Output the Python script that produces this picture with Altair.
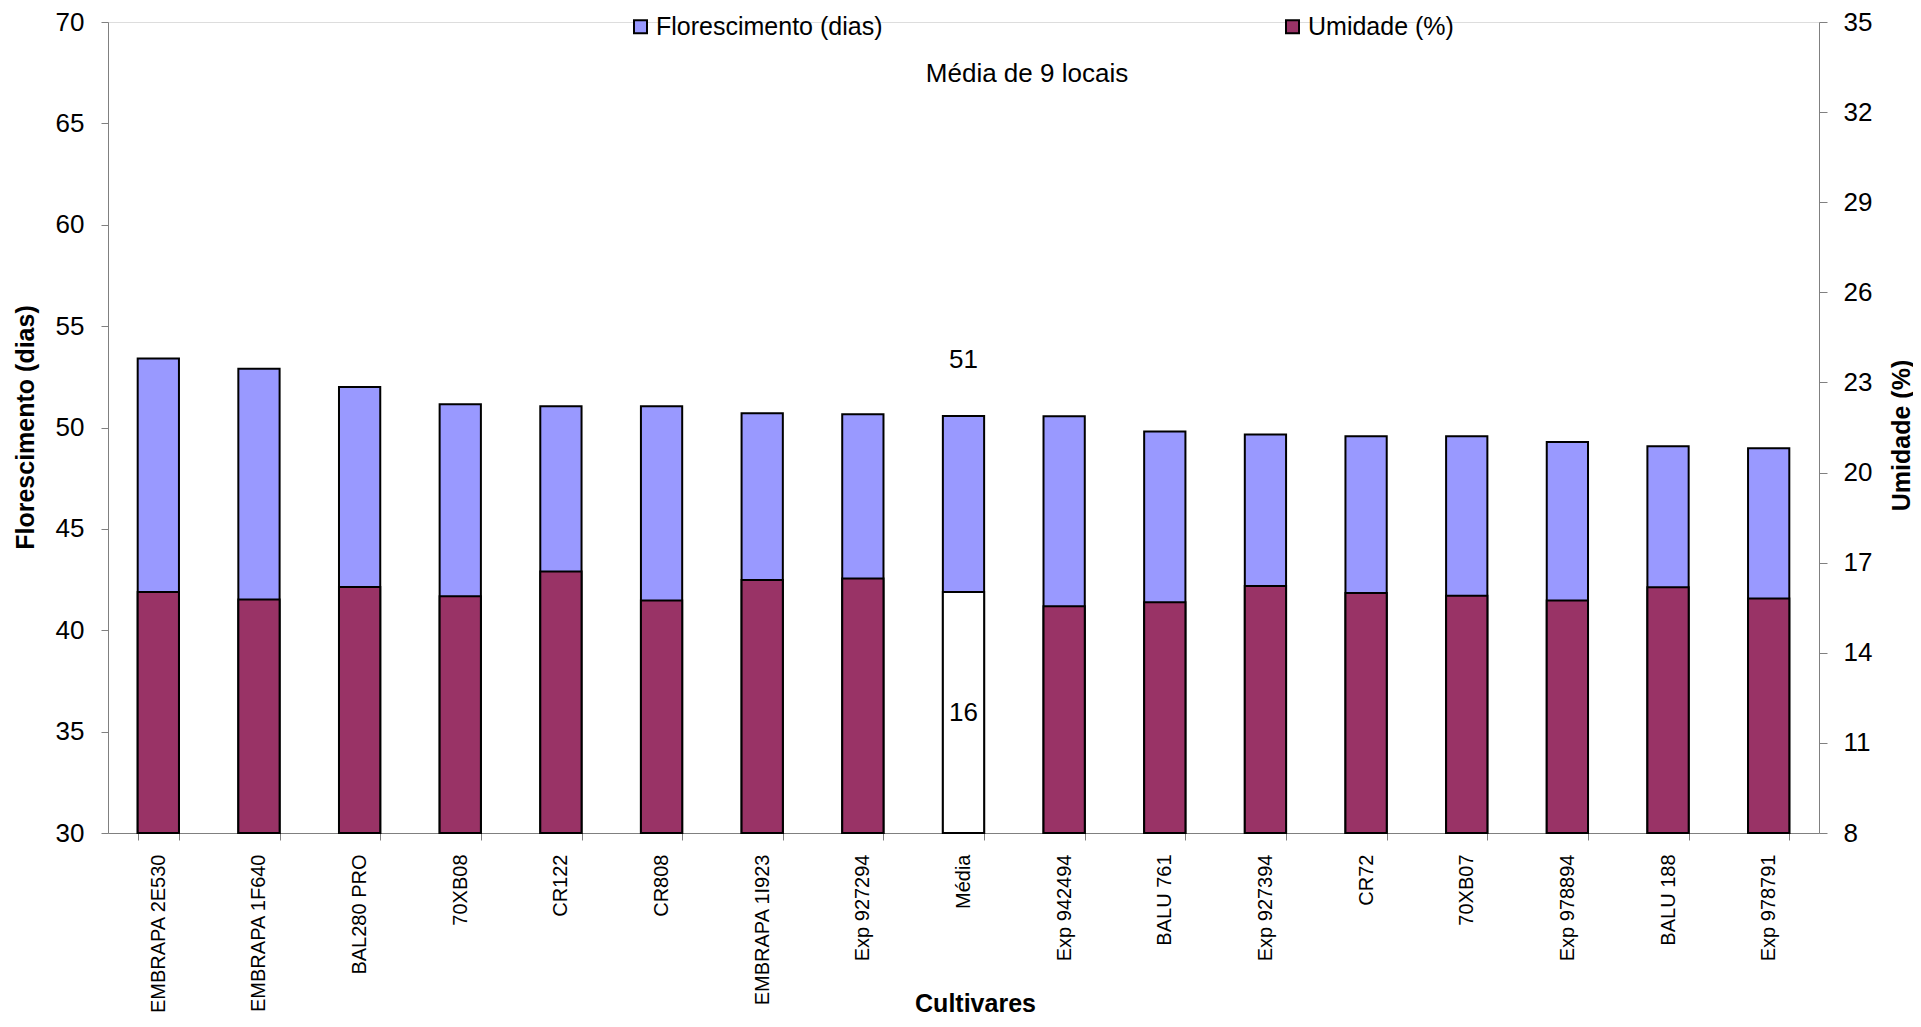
import altair as alt
import pandas as pd

cultivares = ["EMBRAPA 2E530", "EMBRAPA 1F640", "BAL280 PRO", "70XB08", "CR122", "CR808",
              "EMBRAPA 1I923", "Exp 927294", "Média", "Exp 942494", "BALU 761", "Exp 927394",
              "CR72", "70XB07", "Exp 978894", "BALU 188", "Exp 978791"]
florescimento = [53.4, 52.9, 52.0, 51.15, 51.05, 51.05, 50.7, 50.65, 50.57, 50.55, 49.8, 49.65,
                 49.57, 49.57, 49.28, 49.08, 48.98]
umidade = [16.02, 15.77, 16.19, 15.88, 16.71, 15.74, 16.42, 16.47, 16.02, 15.55, 15.68, 16.22,
           15.99, 15.9, 15.74, 16.18, 15.81]

SERIE_F = "Florescimento (dias)"
SERIE_U = "Umidade (%)"
titulo = "Média de 9 locais"

rows = []
for c, f, u in zip(cultivares, florescimento, umidade):
    rows.append({"Cultivar": c, "serie": SERIE_F, "valor": f})
    rows.append({"Cultivar": c, "serie": SERIE_U, "valor": u})
df = pd.DataFrame(rows)

FONT = "Liberation Sans"
W, H = 1711, 811

fill_scale = alt.Scale(domain=[SERIE_F, SERIE_U], range=["#9999FF", "#993366"])
legend = alt.Legend(
    title=None, orient="none", legendX=520, legendY=-8, direction="horizontal", columns=2,
    columnPadding=397, symbolType="square", symbolSize=169, symbolStrokeColor="black",
    symbolStrokeWidth=2, labelFontSize=25, labelFont=FONT, labelColor="black",
    labelOffset=3, padding=0, labelLimit=600,
)

x_enc = alt.X(
    "Cultivar:N", sort=cultivares,
    scale=alt.Scale(paddingInner=0.59, paddingOuter=0.295),
    axis=alt.Axis(
        title="Cultivares", labelAngle=270, labelFontSize=20, labelFont=FONT, labelColor="black",
        tickBand="extent", tickSize=7, labelPadding=14, tickColor="#808080", domainColor="#808080",
        titleFontSize=25, titleFont=FONT, titleFontWeight="bold", titleColor="black",
        titleX=867, titleY=170, titleBaseline="middle", titleAlign="center", labelLimit=400,
    ),
)

left_axis = alt.Axis(
    title=SERIE_F, orient="left", values=list(range(30, 71, 5)), grid=False,
    tickSize=7, labelPadding=17, labelFontSize=26, labelFont=FONT, labelColor="black",
    tickColor="#808080", domainColor="#808080",
    titleFontSize=25, titleFont=FONT, titleFontWeight="bold", titleColor="black",
    titleAngle=270, titleX=-83, titleY=405, titleAlign="center", titleBaseline="middle",
)
right_axis = alt.Axis(
    title=SERIE_U, orient="right", values=list(range(8, 36, 3)), grid=False,
    tickSize=8, labelPadding=16, labelFontSize=26, labelFont=FONT, labelColor="black",
    tickColor="#808080", domainColor="#808080",
    titleFontSize=25, titleFont=FONT, titleFontWeight="bold", titleColor="black",
    titleAngle=270, titleX=82, titleY=413, titleAlign="center", titleBaseline="middle",
)
left_scale = alt.Scale(domain=[30, 70], nice=False, zero=False, clamp=True)
right_scale = alt.Scale(domain=[8, 35], nice=False, zero=False, clamp=True)

base = alt.Chart(df)

flor_bars = base.transform_filter(alt.datum.serie == SERIE_F).mark_bar(
    stroke="black", strokeWidth=2
).encode(
    x=x_enc,
    y=alt.Y("valor:Q", scale=left_scale, axis=left_axis),
    y2=alt.datum(30),
    fill=alt.Fill("serie:N", scale=fill_scale, legend=legend),
)
flor_text = base.transform_filter(
    (alt.datum.serie == SERIE_F) & (alt.datum.Cultivar == "Média")
).mark_text(fontSize=26, font=FONT, color="black", dy=-56, baseline="middle").encode(
    x=x_enc,
    y=alt.Y("valor:Q", scale=left_scale, axis=left_axis),
    text=alt.Text("valor:Q", format=".0f"),
)

umi_bars = base.transform_filter(alt.datum.serie == SERIE_U).mark_bar(
    stroke="black", strokeWidth=2
).encode(
    x=x_enc,
    y=alt.Y("valor:Q", scale=right_scale, axis=right_axis),
    y2=alt.datum(8),
    fill=alt.condition(
        alt.datum.Cultivar == "Média",
        alt.value("white"),
        alt.Fill("serie:N", scale=fill_scale, legend=legend),
    ),
)
umi_text = base.transform_filter(
    (alt.datum.serie == SERIE_U) & (alt.datum.Cultivar == "Média")
).transform_calculate(mid="(datum.valor + 8) / 2").mark_text(
    fontSize=26, font=FONT, color="black", baseline="middle"
).encode(
    x=x_enc,
    y=alt.Y("mid:Q", scale=right_scale, axis=right_axis),
    text=alt.Text("valor:Q", format=".0f"),
)

title_text = alt.Chart(pd.DataFrame({"t": [titulo]})).mark_text(
    fontSize=26, font=FONT, color="black", align="center", baseline="middle"
).encode(text="t:N", x=alt.value(919), y=alt.value(52))

chart = alt.layer(
    alt.layer(flor_bars, flor_text),
    alt.layer(umi_bars, umi_text),
    title_text,
).resolve_scale(y="independent").properties(
    width=W, height=H,
    autosize=alt.AutoSizeParams(type="none"),
    padding={"left": 100, "top": 14, "right": 94, "bottom": 186},
).configure_view(strokeWidth=0).configure(font=FONT)

chart.save("out.html", embed_options={"renderer": "svg", "actions": False})
